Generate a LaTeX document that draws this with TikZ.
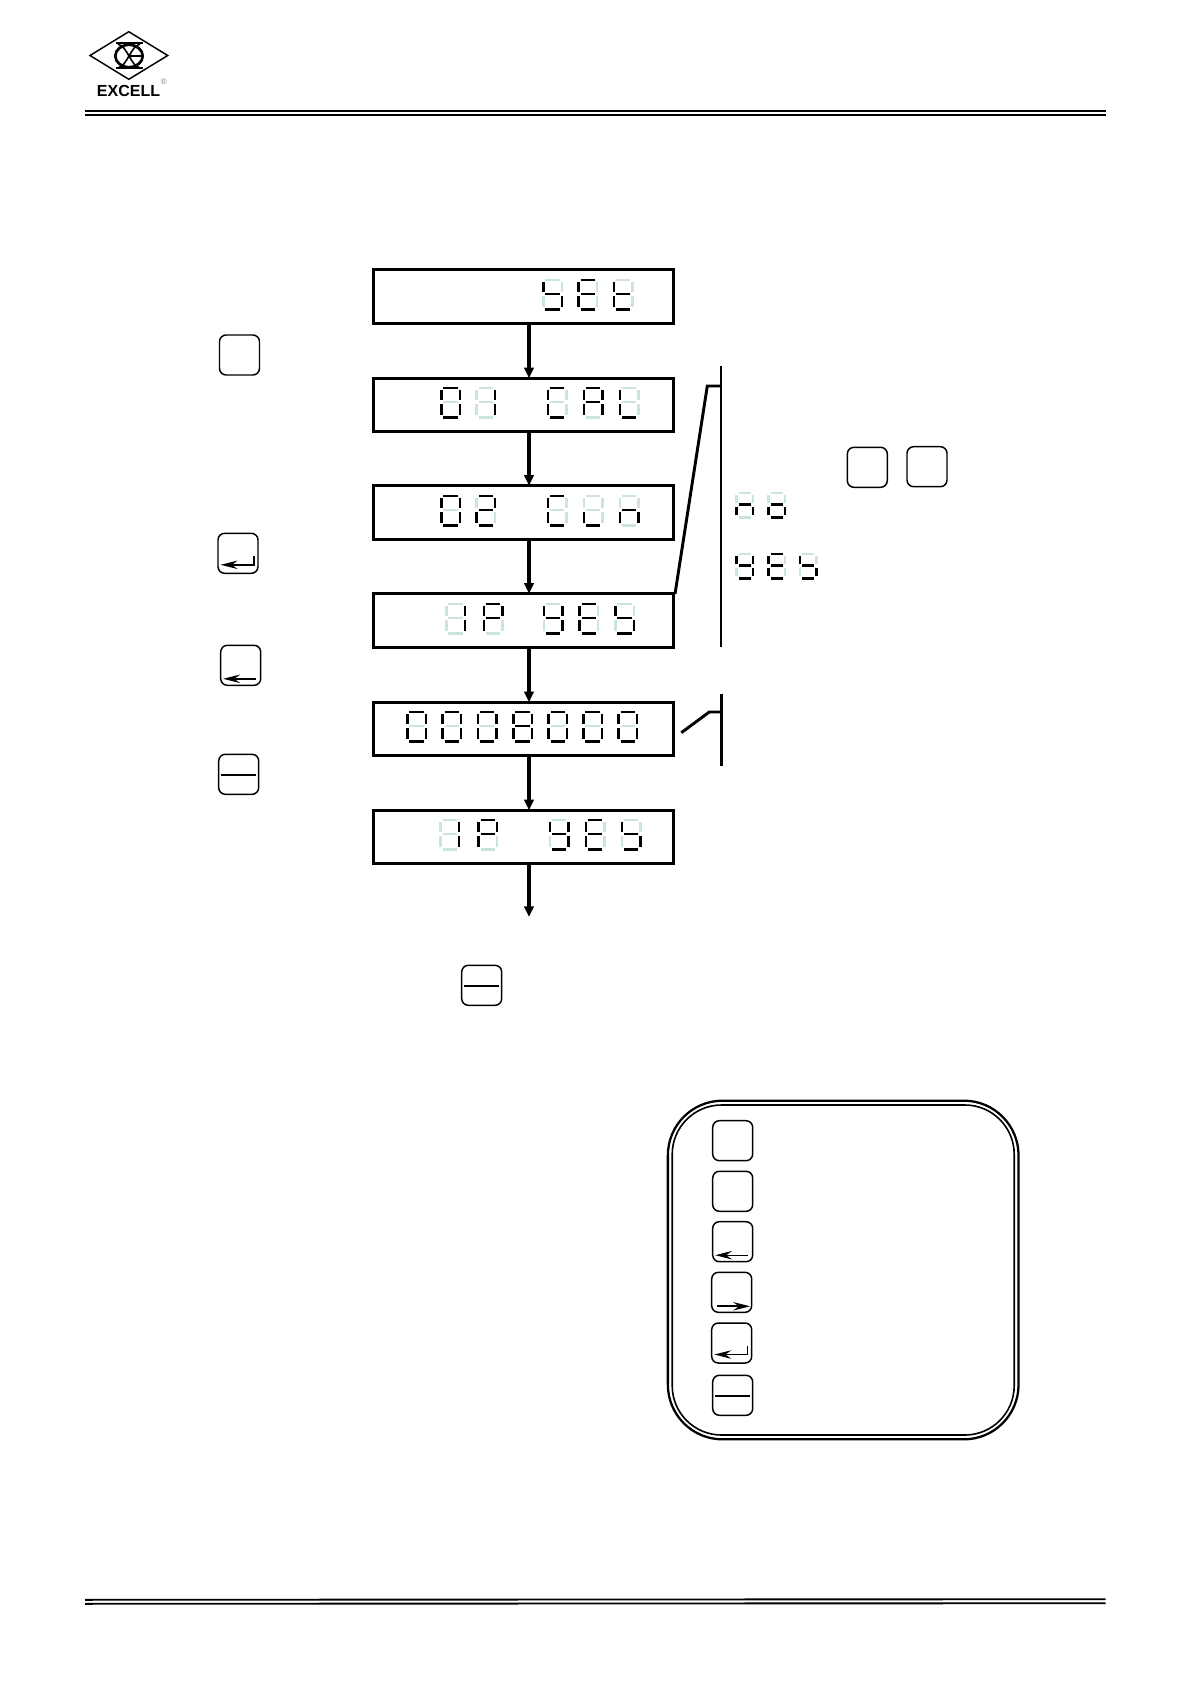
\documentclass[tikz,border=0pt]{standalone}
\usepackage{fontspec}
\setmainfont{Liberation Sans}
\usetikzlibrary{arrows.meta,calc}
\definecolor{pale}{HTML}{CBE5DE}
\tikzset{
  lcdbox/.style={draw=black,line width=2.35pt,minimum width=225pt,minimum height=40pt,inner sep=0pt,outer sep=0pt},
  keybox/.style={draw=black,line width=1.1pt,rounded corners=5pt,minimum width=30pt,minimum height=30pt,inner sep=0pt,outer sep=0pt,anchor=north west},
  flowarrow/.style={line width=2.3pt,-{Triangle[length=8pt,width=7pt]}},
  bracket/.style={line width=2.2pt},
  rule/.style={line width=1.4pt},
  segon/.style={line width=1.8pt,draw=black},
  segoff/.style={line width=1.8pt,draw=pale},
  glyph/.style={line width=1.05pt},
  logoline/.style={line width=1.1pt}
}
\def\sgw{21}\def\sgh{32}
\newcommand\sgm[5]{\ifnum#1=0 \draw[segoff] (#2,#3)--(#4,#5);\fi\ifnum#1=1 \draw[segon] (#2,#3)--(#4,#5);\fi}
\newcommand\dgt[3]{\edef\sgmask{#3}\expandafter\dgtx\sgmask\relax{#1}{#2}}
\def\dgtx#1#2#3#4#5#6#7\relax#8#9{%
  \pgfmathsetmacro\xa{#8+1.3}\pgfmathsetmacro\xb{#8+\sgw-1.3}%
  \pgfmathsetmacro\xc{#8+3.3}\pgfmathsetmacro\xd{#8+\sgw-3.3}%
  \pgfmathsetmacro\ya{#9+1.2}\pgfmathsetmacro\ye{#9+\sgh-1.2}%
  \pgfmathsetmacro\ym{#9+\sgh/2-0.7}%
  \pgfmathsetmacro\yb{#9+3.3}\pgfmathsetmacro\yc{#9+\sgh/2-2.5}%
  \pgfmathsetmacro\yd{#9+\sgh/2+1.3}\pgfmathsetmacro\yf{#9+\sgh-3.8}%
  \sgm{#1}{\xc}{\ya}{\xd}{\ya}%
  \sgm{#2}{\xb}{\yb}{\xb}{\yc}%
  \sgm{#3}{\xb}{\yd}{\xb}{\yf}%
  \sgm{#4}{\xc}{\ye}{\xd}{\ye}%
  \sgm{#5}{\xa}{\yd}{\xa}{\yf}%
  \sgm{#6}{\xa}{\yb}{\xa}{\yc}%
  \sgm{#7}{\xc}{\ym}{\xd}{\ym}%
}
%            abcdefg
\def\sdZ{1111110}\def\sdI{0110000}\def\sdC{1001110}\def\sdA{1110111}\def\sdL{0001110}
\def\sdB{1101101}\def\sdc{0001100}\def\sdn{0010101}\def\sdP{1100111}
\def\sdy{0111011}\def\sdE{1001111}\def\sdS{0011011}\def\sdt{0001111}\def\sdo{0011101}\def\sdEight{1111111}
% arrowhead: tip x, y, direction (+1 = tail to the right of the tip)
\newcommand\ahead[3]{\fill (#1,#2)--({#1+#3*17},{#2-4.3})--({#1+#3*11},#2)--({#1+#3*17},{#2+4.3})--cycle;}
\newcommand\glyphEnter[1]{\begin{scope}[shift={(#1.north west)}]\draw[glyph] (36,23)--(36,31.5)--(8,31.5);\ahead{2.7}{31.5}{1}\end{scope}}
\newcommand\glyphLeft[2]{\begin{scope}[shift={(#1.north west)}]\draw[line width=#2] (35.5,33.5)--(8,33.5);\ahead{2.5}{33.5}{1}\end{scope}}
\newcommand\glyphRight[1]{\begin{scope}[shift={(#1.north west)}]\draw[line width=1.4pt] (5.7,34)--(32,34);\ahead{38.3}{34}{-1}\end{scope}}
\newcommand\glyphMinus[1]{\begin{scope}[shift={(#1.north west)}]\draw[glyph] (2.7,20.5)--(37.3,20.5);\end{scope}}
\begin{document}
\begin{tikzpicture}[x=0.75pt,y=-0.75pt]
\useasboundingbox (0,0) rectangle (1190,1684);
\fill[white] (0,0) rectangle (1190,1684);
% header and footer rules
\draw[rule] (85,111)--(1105.5,111);
\draw[rule] (85,115.3)--(1105.5,115.3);
\draw[rule] (85,1599.8)--(1105.5,1599.2);
\draw[rule] (85,1603.8)--(1105.5,1603.2);
% logo
\draw[logoline] (90,55.5)--(128.8,31.7)--(167.7,55.5)--(128.8,79.3)--cycle;
\draw[line width=2pt] (129,56) ellipse [x radius=13.7,y radius=11.2];
\draw[line width=1.5pt] (115.5,43.3)--(142.7,43.3) (115.5,68.3)--(142.7,68.3);
\draw[logoline] (129,56)--(142,56);
\draw[line width=1.2pt] (118,44) .. controls (128,47) and (130,65) .. (140,68);
\draw[line width=1.2pt] (140,44) .. controls (130,47) and (128,65) .. (118,68);
\node[font=\bfseries\fontsize{12}{12}\selectfont,inner sep=0pt,text=black] (brand) at (128.5,91) {EXCELL};
\node[font=\fontsize{6}{6}\selectfont,inner sep=0pt,text=black!50] (reg) at (163.7,81.7) {®};
% boxes
\node[lcdbox] (b1) at (523.7,296.5) {};
\node[lcdbox] (b2) at (523.7,405) {};
\node[lcdbox] (b3) at (523.7,512.4) {};
\node[lcdbox] (b4) at (523.7,620.5) {};
\node[lcdbox] (b5) at (523.7,729) {};
\node[lcdbox] (b6) at (523.7,837) {};
\coordinate (ax) at (529,0);
\coordinate (endarrow) at (529,917);
\draw[flowarrow] (b1.south -| ax)--(b2.north -| ax);
\draw[flowarrow] (b2.south -| ax)--(b3.north -| ax);
\draw[flowarrow] (b3.south -| ax)--(b4.north -| ax);
\draw[flowarrow] (b4.south -| ax)--(b5.north -| ax);
\draw[flowarrow] (b5.south -| ax)--(b6.north -| ax);
\draw[flowarrow] (b6.south -| ax)--(endarrow);
% digits
\dgt{542}{278.7}{\sdS}\dgt{577.3}{278.7}{\sdE}\dgt{612.7}{278.7}{\sdt}
\dgt{440}{386.7}{\sdZ}\dgt{475.3}{386.7}{\sdI}\dgt{546.7}{386.7}{\sdC}\dgt{582.7}{386.7}{\sdA}\dgt{618.7}{386.7}{\sdL}
\dgt{440}{494.7}{\sdZ}\dgt{475.3}{494.7}{\sdB}\dgt{546.7}{494.7}{\sdC}\dgt{582.7}{494.7}{\sdc}\dgt{618.7}{494.7}{\sdn}
\dgt{445}{602.7}{\sdI}\dgt{482.7}{602.7}{\sdP}\dgt{542.7}{602.7}{\sdy}\dgt{578.3}{602.7}{\sdE}\dgt{614}{602.7}{\sdS}
\dgt{406}{710.7}{\sdZ}\dgt{441.3}{710.7}{\sdZ}\dgt{476.7}{710.7}{\sdZ}\dgt{512}{710.7}{\sdEight}\dgt{547.3}{710.7}{\sdZ}\dgt{582}{710.7}{\sdZ}\dgt{617.3}{710.7}{\sdZ}
\dgt{439.3}{818.7}{\sdI}\dgt{477.3}{818.7}{\sdP}\dgt{548.7}{818.7}{\sdy}\dgt{584.7}{818.7}{\sdE}\dgt{620.7}{818.7}{\sdS}
\def\sgw{19}\def\sgh{27}
\dgt{735.3}{491.7}{\sdn}\dgt{767.3}{491.7}{\sdo}
\dgt{735.3}{552.7}{\sdy}\dgt{767.3}{552.7}{\sdE}\dgt{798.7}{552.7}{\sdS}
% brackets
\coordinate (s1t) at (721,366);\coordinate (s1b) at (721,646.7);
\coordinate (s1j) at (721,386);\coordinate (s1k) at (707.3,386);\coordinate (s1e) at (675,594);
\draw[bracket] (s1t)--(s1b);
\draw[bracket] (s1j)--(s1k)--(s1e);
\coordinate (s2t) at (721.3,694);\coordinate (s2b) at (721.3,766);
\coordinate (s2j) at (721.3,712);\coordinate (s2k) at (709.3,712);\coordinate (s2e) at (681.3,732.7);
\draw[bracket] (s2t)--(s2b);
\draw[bracket] (s2j)--(s2k)--(s2e);
% flow keys
\node[keybox] (k1) at (219.5,335) {};
\node[keybox] (k2) at (218,533.3) {};\glyphEnter{k2}
\node[keybox] (k3) at (220.7,645.3) {};\glyphLeft{k3}{1.7pt}
\node[keybox] (k4) at (218.7,754.3) {};\glyphMinus{k4}
\node[keybox] (k5) at (847.3,447.3) {};
\node[keybox] (k6) at (907,446.7) {};
\node[keybox] (k7) at (461.7,965.3) {};\glyphMinus{k7}
% panel
\node[draw=black,line width=1.7pt,rounded corners=41pt,minimum width=263pt,minimum height=254pt,inner sep=0pt,outer sep=0pt] (panelo) at (843.2,1270) {};
\node[draw=black,line width=1.2pt,rounded corners=37pt,minimum width=256.5pt,minimum height=247.5pt,inner sep=0pt,outer sep=0pt] (paneli) at (843.2,1270) {};
\node[keybox] (p1) at (712.7,1120.7) {};
\node[keybox] (p2) at (712.7,1171.3) {};
\node[keybox] (p3) at (712.7,1221.7) {};\glyphLeft{p3}{1pt}
\node[keybox] (p4) at (711.7,1272.3) {};\glyphRight{p4}
\node[keybox] (p5) at (711.7,1323) {};\glyphEnter{p5}
\node[keybox] (p6) at (712.7,1375.3) {};\glyphMinus{p6}
\end{tikzpicture}
\end{document}
